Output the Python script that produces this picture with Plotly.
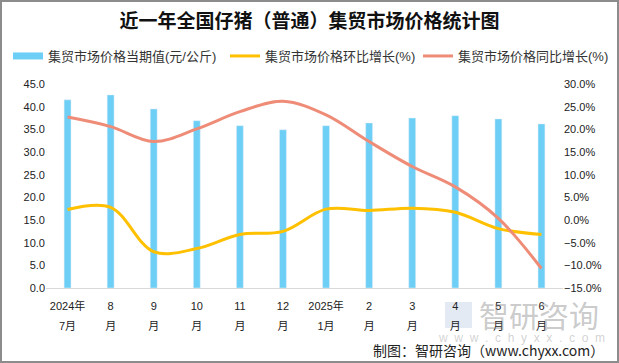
import plotly.graph_objects as go

months_l1 = ["2024年", "8", "9", "10", "11", "12", "2025年", "2", "3", "4", "5", "6"]
months_l2 = ["7月", "月", "月", "月", "月", "月", "1月", "月", "月", "月", "月", "月"]
categories = [f"{a}|{b}" for a, b in zip(months_l1, months_l2)]
tick_text = [f"<span style='font-size:11px'>{a}</span><br><span style='font-size:11px'>{b}</span>"
             for a, b in zip(months_l1, months_l2)]
price = [41.5, 42.6, 39.5, 36.9, 35.8, 34.9, 35.8, 36.4, 37.5, 38.0, 37.3, 36.2]
mom = [2.3, 2.8, -7.0, -6.3, -3.2, -2.5, 2.4, 2.1, 2.6, 1.7, -1.9, -3.2]
yoy = [22.7, 20.6, 17.3, 20.1, 23.9, 26.2, 23.2, 17.3, 11.8, 7.3, 0.35, -10.7]

W, H = 619, 363
L, R, T, B = 46, 56, 84, 75
pw, ph = W - L - R, H - T - B

def px(x):
    return (x - L) / pw

def py(y):
    return (H - B - y) / ph

FONT = "Liberation Sans, Noto Sans CJK SC, sans-serif"
BLUE, YELLOW, SALMON = "#6DCFF6", "#FFC000", "#EE8C78"

fig = go.Figure()
fig.add_trace(go.Bar(x=categories, y=price, name="集贸市场价格当期值(元/公斤)",
                     marker_color=BLUE, yaxis="y", showlegend=False))
# legend key for the bars (wide swatch like the reference)
fig.add_trace(go.Scatter(x=[None], y=[None], name="集贸市场价格当期值(元/公斤)", mode="lines",
                         line=dict(color=BLUE, width=7), legend="legend", showlegend=True))
fig.add_trace(go.Scatter(x=categories, y=mom, name="集贸市场价格环比增长(%)",
                         mode="lines", line=dict(color=YELLOW, width=3, shape="spline", smoothing=1),
                         yaxis="y2", legend="legend2", showlegend=True))
fig.add_trace(go.Scatter(x=categories, y=yoy, name="集贸市场价格同比增长(%)",
                         mode="lines", line=dict(color=SALMON, width=3, shape="spline", smoothing=1),
                         yaxis="y2", legend="legend3", showlegend=True))

def leg(xpix):
    return dict(orientation="h", x=px(xpix), y=py(56), xanchor="left", yanchor="middle",
                font=dict(size=13, color="#333333", family=FONT), bgcolor="rgba(0,0,0,0)",
                itemwidth=30, visible=True)

fig.update_layout(
    width=W, height=H,
    showlegend=True,
    margin=dict(l=L, r=R, t=T, b=B, autoexpand=False),
    paper_bgcolor="white", plot_bgcolor="white",
    font=dict(family=FONT, size=11, color="#333333"),
    bargap=0.84,
    title=dict(text="<b>近一年全国仔猪（普通）集贸市场价格统计图</b>", x=0.5, xanchor="center",
               y=1 - 21 / H, yanchor="middle", yref="container",
               font=dict(size=19, color="#111111", family="Noto Sans CJK SC")),
    legend=leg(8),
    legend2=leg(225),
    legend3=leg(418),
    xaxis=dict(showgrid=False, showline=True, linecolor="#D9D9D9", linewidth=1,
               ticks="", tickvals=categories, ticktext=tick_text, ticklabelstandoff=3,
               tickfont=dict(size=15, color="#222222"), fixedrange=True, automargin=False),
    yaxis=dict(range=[0, 45], dtick=5, tickformat=".1f", showgrid=False, zeroline=False,
               showline=False, ticks="", tickfont=dict(size=11, color="#222222"), automargin=False),
    yaxis2=dict(range=[-15, 30], dtick=5, tickformat=".1f", ticksuffix="%", overlaying="y",
                side="right", showgrid=False, zeroline=False, showline=False, ticks="",
                tickfont=dict(size=11, color="#222222"), automargin=False),
)

# watermark
fig.add_shape(type="rect", xref="paper", yref="paper", x0=px(445), x1=px(472),
              y0=py(302), y1=py(328), line=dict(width=0), fillcolor="rgba(120,150,200,0.20)",
              layer="below")
fig.add_annotation(text="智研咨询", xref="paper", yref="paper", x=px(539), y=py(314),
                   xanchor="center", yanchor="middle", showarrow=False,
                   font=dict(size=30, color="rgba(120,120,120,0.40)", family="Noto Sans CJK SC"))
fig.add_annotation(text="\u00a0\u00a0".join("www.chyxx.com"), xref="paper", yref="paper",
                   x=px(521), y=py(338), xanchor="center", yanchor="middle", showarrow=False,
                   font=dict(size=12, color="rgba(120,120,120,0.35)", family=FONT))
# source
fig.add_annotation(text="制图：智研咨询（www.chyxx.com）", xref="paper", yref="paper",
                   x=px(606), y=py(350), xanchor="right", yanchor="middle", showarrow=False,
                   font=dict(size=14, color="#222222", family="Noto Sans CJK SC"))
# frame
fig.add_shape(type="rect", xref="paper", yref="paper", x0=px(1), x1=px(W - 1),
              y0=py(H - 1), y1=py(1), line=dict(color="#8C8C8C", width=2),
              fillcolor="rgba(0,0,0,0)", layer="above")

fig.write_html("out.html", config={"displayModeBar": False},
               post_script="document.body.style.margin='0';document.body.style.padding='0';")
